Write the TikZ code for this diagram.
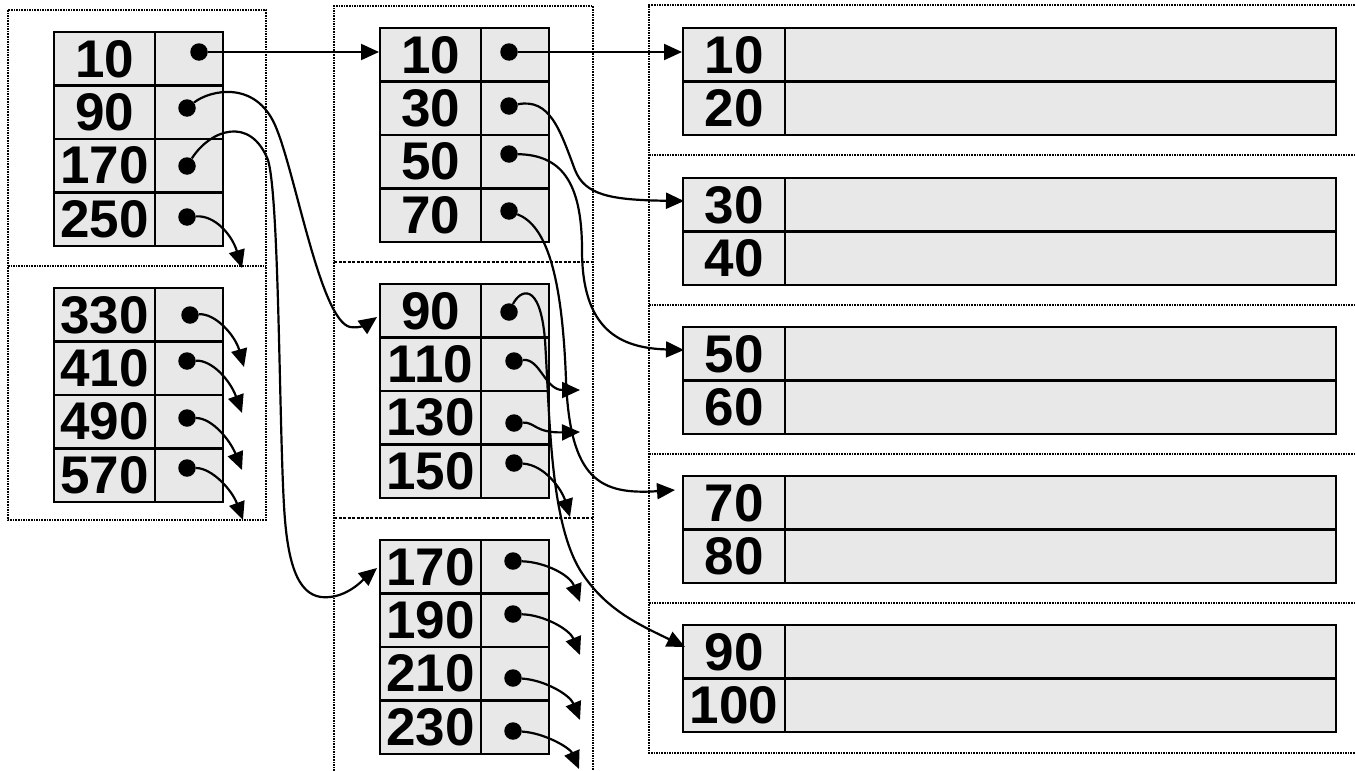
\documentclass[tikz,border=0pt]{standalone}
\usepackage{fontspec}
\setmainfont{Liberation Sans}
\usetikzlibrary{arrows.meta}
\definecolor{cellgray}{RGB}{232,232,232}
\tikzset{
 cellbase/.style={draw=black, line width=2.4pt, fill=cellgray, inner sep=0pt, anchor=north west, minimum height=53.4pt, font=\fontsize{53}{53}\selectfont\bfseries},
 keycell/.style={cellbase, minimum width=101pt},
 ptrcell/.style={cellbase, minimum width=68pt},
 leafkey/.style={cellbase, minimum width=102pt},
 datacell/.style={cellbase, minimum width=551pt},
 ptrdot/.style={circle, fill=black, inner sep=0pt, minimum size=17.5pt},
 arr/.style={line width=2.2pt, -{Triangle[length=18pt 0,width=16pt 0]}},
 dotline/.style={line width=1.6pt, dash pattern=on 1.6pt off 1pt},
 dashline/.style={line width=1.6pt, dash pattern=on 3pt off 1.5pt},
}
\newcommand\mkindex[4]{%
  \foreach \k [count=\i] in {#4} {
    \node[keycell] (#1k\i) at ({#2},{#3+(\i-1)*53.4}) {\k};
    \node[ptrcell] (#1p\i) at ({#2+101},{#3+(\i-1)*53.4}) {};
  }}
\newcommand\mkleaf[4]{%
  \foreach \k [count=\i] in {#4} {
    \node[leafkey] (#1k\i) at ({#2},{#3+(\i-1)*53.4}) {\k};
    \node[datacell] (#1p\i) at ({#2+102},{#3+(\i-1)*53.4}) {};
  }}
\begin{document}
\begin{tikzpicture}[x=1pt,y=-1pt]
\useasboundingbox (0,0) rectangle (1355,771);
% dotted frames
\draw[dotline] (8,10) rectangle (266,520);
\draw[dotline] (8,266) -- (266,266);
\draw[dotline] (334,771) -- (334,6) -- (593,6) -- (593,771);
\draw[dashline] (334,262) -- (593,262);
\draw[dashline] (334,518) -- (593,518);
\draw[dotline] (1355,5) -- (649,5) -- (649,753) -- (1355,753);
\foreach \yy in {155,305,454,603} \draw[dotline] (649,\yy) -- (1355,\yy);
% tables
\mkindex{La}{53}{31}{10,90,170,250}
\mkindex{Lb}{53}{287}{330,410,490,570}
\mkindex{Ma}{379}{27}{10,30,50,70}
\mkindex{Mb}{379}{283}{90,110,130,150}
\mkindex{Mc}{379}{539}{170,190,210,230}
\mkleaf{Ra}{682}{27}{10,20}
\mkleaf{Rb}{682}{177}{30,40}
\mkleaf{Rc}{682}{326}{50,60}
\mkleaf{Rd}{682}{475}{70,80}
\mkleaf{Re}{682}{624}{90,100}
% dots
\node[ptrdot] (Lad1) at (199,52) {};
\node[ptrdot] (Lad2) at (187,108) {};
\node[ptrdot] (Lad3) at (187,166) {};
\node[ptrdot] (Lad4) at (187,217) {};
\node[ptrdot] (Lbd1) at (190,315) {};
\node[ptrdot] (Lbd2) at (187,361) {};
\node[ptrdot] (Lbd3) at (187,418) {};
\node[ptrdot] (Lbd4) at (187,468) {};
\node[ptrdot] (Mad1) at (509,52) {};
\node[ptrdot] (Mad2) at (509,106) {};
\node[ptrdot] (Mad3) at (509,154) {};
\node[ptrdot] (Mad4) at (509,211) {};
\node[ptrdot] (Mbd1) at (509,312) {};
\node[ptrdot] (Mbd2) at (514,361) {};
\node[ptrdot] (Mbd3) at (514,423) {};
\node[ptrdot] (Mbd4) at (514,463) {};
\node[ptrdot] (Mcd1) at (513,561) {};
\node[ptrdot] (Mcd2) at (513,614) {};
\node[ptrdot] (Mcd3) at (513,678) {};
\node[ptrdot] (Mcd4) at (513,731) {};
% arrow tips
\coordinate (tLa2) at (377,317);
\coordinate (tLa3) at (377,568);
\coordinate (tLa4) at (242,268);
\coordinate (tLb1) at (244,367);
\coordinate (tLb2) at (242,413);
\coordinate (tLb3) at (242,470);
\coordinate (tLb4) at (243,520);
\coordinate (tMa2) at (684,201);
\coordinate (tMa3) at (684,350);
\coordinate (tMa4) at (675,490);
\coordinate (tMb1) at (685,647);
\coordinate (tMb2) at (580,390);
\coordinate (tMb3) at (580,432);
\coordinate (tMb4) at (570,517);
\coordinate (tMc1) at (580,602);
\coordinate (tMc2) at (580,655);
\coordinate (tMc3) at (580,720);
\coordinate (tMc4) at (579,769);
% connectors
\draw[arr] (Lad1) -- (Lad1 -| Mak1.west);
\draw[arr] (Mad1) -- (Mad1 -| Rak1.west);
\draw[arr] (Lad2) .. controls (210,90) and (255,80) .. (275,125)
  .. controls (295,170) and (320,320) .. (350,327)
  .. controls (362,329) and (370,322) .. (tLa2);
\draw[arr] (Lad3) .. controls (210,130) and (250,115) .. (268,160)
  .. controls (280,200) and (279,450) .. (285,520)
  .. controls (290,580) and (305,600) .. (330,597)
  .. controls (350,595) and (365,578) .. (tLa3);
\draw[arr] (Lad4) .. controls (215,215) and (232,235) .. (tLa4);
\draw[arr] (Lbd1) .. controls (215,313) and (235,335) .. (tLb1);
\draw[arr] (Lbd2) .. controls (212,360) and (230,380) .. (tLb2);
\draw[arr] (Lbd3) .. controls (212,418) and (230,440) .. (tLb3);
\draw[arr] (Lbd4) .. controls (212,468) and (232,490) .. (tLb4);
\draw[arr] (Mad2) .. controls (550,98) and (560,130) .. (575,170)
  .. controls (585,195) and (610,200) .. (tMa2);
\draw[arr] (Mad3) .. controls (560,155) and (582,180) .. (582,250)
  .. controls (582,330) and (620,348) .. (tMa3);
\draw[arr] (Mad4) .. controls (545,225) and (562,270) .. (566,380)
  .. controls (570,480) and (600,495) .. (tMa4);
\draw[arr] (Mbd1) .. controls (520,290) and (540,280) .. (545,340)
  .. controls (550,420) and (550,520) .. (580,570)
  .. controls (605,610) and (640,625) .. (tMb1);
\draw[arr] (Mbd2) .. controls (540,358) and (545,390) .. (tMb2);
\draw[arr] (Mbd3) .. controls (535,422) and (535,433) .. (tMb3);
\draw[arr] (Mbd4) .. controls (545,465) and (562,490) .. (tMb4);
\draw[arr] (Mcd1) .. controls (545,562) and (570,575) .. (tMc1);
\draw[arr] (Mcd2) .. controls (545,615) and (570,630) .. (tMc2);
\draw[arr] (Mcd3) .. controls (545,680) and (570,695) .. (tMc3);
\draw[arr] (Mcd4) .. controls (545,733) and (570,748) .. (tMc4);
\end{tikzpicture}
\end{document}
